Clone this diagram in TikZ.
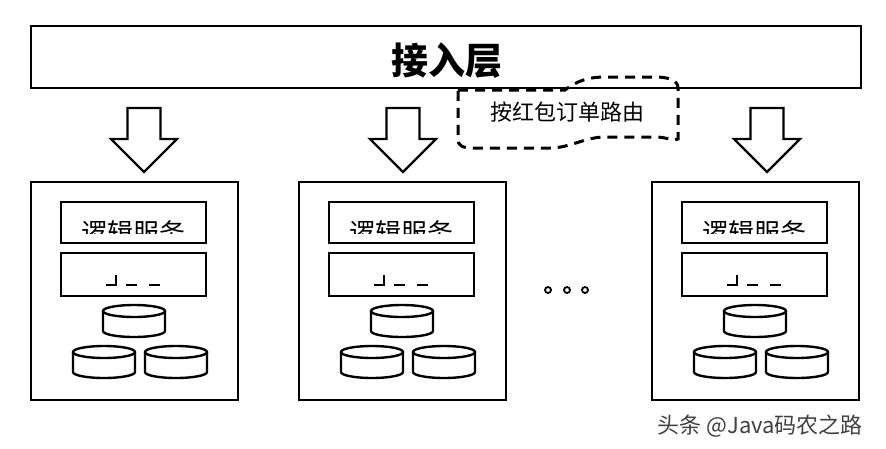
\documentclass[tikz,border=0pt]{standalone}
\usepackage{fontspec}
\newfontfamily\cjk{Noto Sans CJK SC}
\usetikzlibrary{calc}
\tikzset{
  frame/.style={draw=black, line width=2.6pt},
  inbox/.style={draw=black, line width=2.4pt},
  cyl/.style={draw=black, line width=2.4pt, fill=white},
  downarrow/.style={draw=black, line width=2.2pt, fill=white, line join=miter},
  callout/.style={draw=black, line width=3pt, dash pattern=on 10pt off 7pt},
  dotmark/.style={draw=black, line width=1.8pt},
  dbcyl/.pic={
    \draw[cyl] (-31,-10) -- (-31,10) arc[start angle=180, end angle=0, x radius=31, y radius=6] -- (31,-10);
    \draw[cyl] (0,-10) ellipse[x radius=31, y radius=6];
  },
  bigarrow/.pic={
    \draw[downarrow] (-16.5,0) -- (16.5,0) -- (16.5,31) -- (33,31) -- (0,64) -- (-33,31) -- (-16.5,31) -- cycle;
  }
}
\begin{document}
\begin{tikzpicture}[x=1pt,y=-1pt]
\useasboundingbox (0,0) rectangle (886,448);
\fill[white] (0,0) rectangle (886,448);

% access layer
\node[frame, minimum width=830pt, minimum height=62pt, inner sep=0pt] (access) at (446,57) {};
\node[font=\cjk\bfseries\fontsize{37}{40}\selectfont] (accesstxt) at (447,61) {接入层};

% arrows
\pic at (144,108) {bigarrow};
\pic at (403,108) {bigarrow};
\pic at (767,108) {bigarrow};

% service groups
\foreach \dx/\nm in {0/a, 268/b, 621/c} {
  \begin{scope}[shift={(\dx,0)}]
    \node[frame, minimum width=207pt, minimum height=218pt, inner sep=0pt] (grp\nm) at (134.5,291) {};
    \node[inbox, minimum width=145pt, minimum height=41pt, inner sep=0pt] (logic\nm) at (133.5,222.5) {};
    \node[inbox, minimum width=145pt, minimum height=43pt, inner sep=0pt] (store\nm) at (133.5,274.5) {};
    \begin{scope}
      \clip (62,203) rectangle (205,233.5);
      \node[anchor=base, inner sep=0pt, font=\cjk\fontsize{26}{28}\selectfont] (logictxt\nm) at (133.5,242.5) {逻辑服务};
    \end{scope}
    \draw[line width=2.2pt] (106,285) -- (116,285) -- (116,275);
    \draw[line width=2.2pt] (126,285) -- (137,285);
    \draw[line width=2.2pt] (149,285) -- (160,285);
    \pic at (134,321) {dbcyl};
    \pic at (104,362) {dbcyl};
    \pic at (176,362) {dbcyl};
  \end{scope}
}

% ellipsis
\foreach \x/\nm in {548/1, 567/2, 585/3} {
  \draw[dotmark] (\x,290) circle[radius=3pt];
}

% callout
\draw[callout] (458,90) -- (565,90) .. controls (578,80) and (590,77) .. (605,77) -- (655,77)
  .. controls (668,77) and (678,80) .. (678,88) -- (678,139)
  .. controls (674,142) and (668,137) .. (655,137) -- (605,137)
  .. controls (585,137) and (570,148) .. (550,148) -- (472,148)
  .. controls (462,148) and (458,145) .. (458,140) -- cycle;
\node[font=\cjk\fontsize{22}{24}\selectfont] (route) at (567.5,112) {按红包订单路由};

% watermark
\node[anchor=west, text=black!75, font=\cjk\fontsize{22}{24}\selectfont] (wm) at (654,426) {头条 @Java码农之路};
\end{tikzpicture}
\end{document}
